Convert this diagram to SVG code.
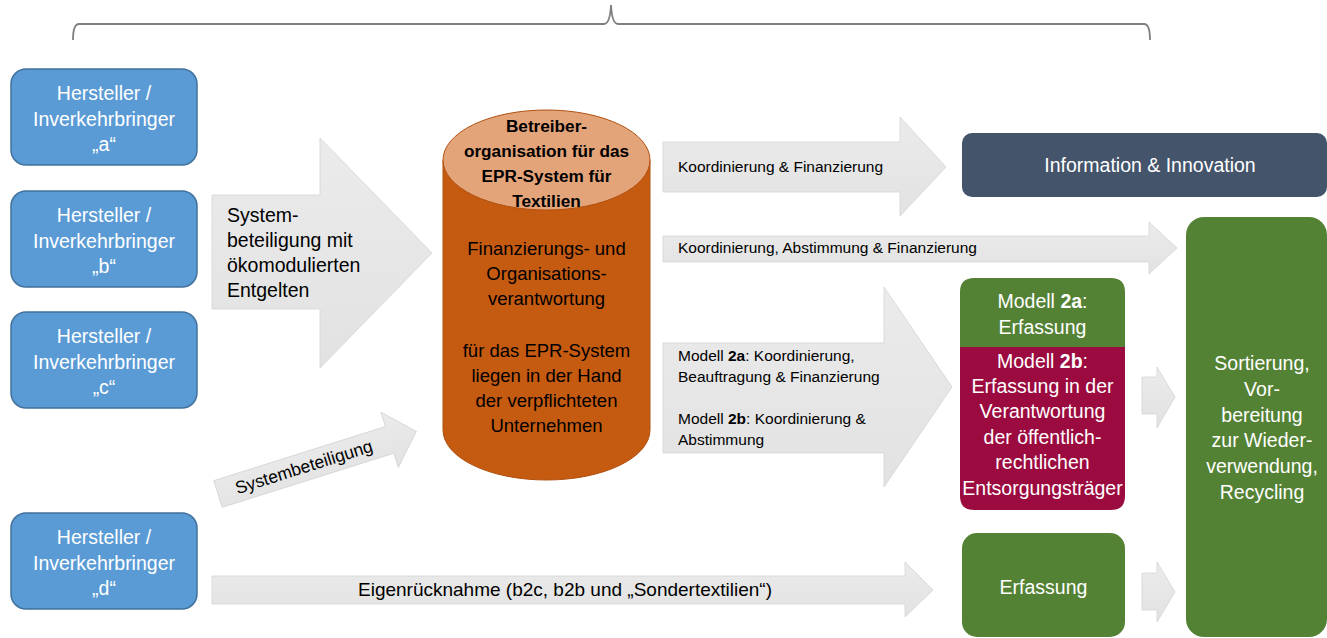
<svg xmlns="http://www.w3.org/2000/svg" width="1327" height="638" viewBox="0 0 1327 638">
<defs>
<linearGradient id="ag" x1="0" y1="0" x2="0" y2="1">
<stop offset="0" stop-color="#EBEBEB"/>
<stop offset="1" stop-color="#E2E2E2"/>
</linearGradient>
</defs>
<style>
text{font-family:"Liberation Sans",Arial,sans-serif;}
.blue{fill:#5B9BD5;stroke:#41719C;stroke-width:1.5;}
.wt{fill:#FFFFFF;font-size:19.5px;text-anchor:middle;}
.bt{fill:#000000;font-size:18.5px;text-anchor:middle;}
.lt{fill:#000000;font-size:19.5px;}
.st{fill:#000000;font-size:15.5px;}
.arrow{fill:url(#ag);stroke:#D4D4D4;stroke-width:0.8;}
.green{fill:#548235;}
.b{font-weight:bold;}
</style>
<path d="M73,40 Q73,24 79,24 L604,24 Q610,24 611,5 Q612,24 618,24 L1144,24 Q1150,24 1150,40" fill="none" stroke="#7F7F7F" stroke-width="1.8"/>
<g id="connectors">
<polygon class="arrow" points="212,195 320,195 320,138 432,253 320,368 320,309 212,309"/>
<text class="lt" x="227" y="221.5">System-</text>
<text class="lt" x="227" y="246.5">beteiligung mit</text>
<text class="lt" x="227" y="271.5">ökomodulierten</text>
<text class="lt" x="227" y="296.5">Entgelten</text>
<g transform="translate(218,494) rotate(-17.5)">
<polygon class="arrow" points="0,-14 180,-14 180,-29 208,0 180,29 180,14 0,14"/>
<text class="bt" x="90" y="6" style="font-size:17.5px">Systembeteiligung</text>
</g>
<polygon class="arrow" points="663,142 900,142 900,117 946,167 900,216 900,192 663,192"/>
<text class="st" x="678" y="172">Koordinierung &amp; Finanzierung</text>
<polygon class="arrow" points="663,236 1149,236 1149,222 1177,248 1149,274 1149,262 663,262"/>
<text class="st" x="678" y="253">Koordinierung, Abstimmung &amp; Finanzierung</text>
<polygon class="arrow" points="663,343 884,343 884,287 952,387 884,487 884,453 663,453"/>
<text class="st" x="678" y="361">Modell <tspan class="b">2a</tspan>: Koordinierung,</text>
<text class="st" x="678" y="382">Beauftragung &amp; Finanzierung</text>
<text class="st" x="678" y="424">Modell <tspan class="b">2b</tspan>: Koordinierung &amp;</text>
<text class="st" x="678" y="445">Abstimmung</text>
<polygon class="arrow" points="212,576 905,576 905,562 933,590 905,617 905,604 212,604"/>
<text class="bt" x="565" y="596" style="font-size:19px">Eigenrücknahme (b2c, b2b und „Sondertextilien“)</text>
<polygon class="arrow" points="1142,377 1157,377 1157,367 1175,397 1157,428 1157,414 1142,414"/>
<polygon class="arrow" points="1142,573 1157,573 1157,562 1175,592 1157,622 1157,610 1142,610"/>
</g>
<g id="node-a">
<rect class="blue" x="11" y="69" width="186" height="96" rx="15"/>
<text class="wt" x="104" y="99.5">Hersteller /</text>
<text class="wt" x="104" y="125.5">Inverkehrbringer</text>
<text class="wt" x="104" y="150.5">„a“</text>
</g>
<g id="node-b">
<rect class="blue" x="11" y="191" width="186" height="96" rx="15"/>
<text class="wt" x="104" y="221.5">Hersteller /</text>
<text class="wt" x="104" y="247.5">Inverkehrbringer</text>
<text class="wt" x="104" y="272.5">„b“</text>
</g>
<g id="node-c">
<rect class="blue" x="11" y="312" width="186" height="96" rx="15"/>
<text class="wt" x="104" y="342.5">Hersteller /</text>
<text class="wt" x="104" y="368.5">Inverkehrbringer</text>
<text class="wt" x="104" y="393.5">„c“</text>
</g>
<g id="node-d">
<rect class="blue" x="11" y="513" width="186" height="96" rx="15"/>
<text class="wt" x="104" y="543.5">Hersteller /</text>
<text class="wt" x="104" y="569.5">Inverkehrbringer</text>
<text class="wt" x="104" y="594.5">„d“</text>
</g>
<g id="node-betreiber">
<path d="M443,160 L443,430 A103.5,50 0 0 0 650,430 L650,160 Z" fill="#C55A11" stroke="#B0500F" stroke-width="1"/>
<ellipse cx="546.5" cy="160" rx="103.5" ry="50" fill="#E4A47A" stroke="#B0500F" stroke-width="1"/>
<text class="bt b" x="546.5" y="131.5" style="font-size:17.2px">Betreiber-</text>
<text class="bt b" x="546.5" y="156.5" style="font-size:17.2px">organisation für das</text>
<text class="bt b" x="546.5" y="181.5" style="font-size:17.2px">EPR-System für</text>
<text class="bt b" x="546.5" y="206.5" style="font-size:17.2px">Textilien</text>
<text class="bt" x="546.5" y="254.5">Finanzierungs- und</text>
<text class="bt" x="546.5" y="279.5">Organisations-</text>
<text class="bt" x="546.5" y="304.5">verantwortung</text>
<text class="bt" x="546.5" y="356.5">für das EPR-System</text>
<text class="bt" x="546.5" y="381.5">liegen in der Hand</text>
<text class="bt" x="546.5" y="406.5">der verpflichteten</text>
<text class="bt" x="546.5" y="431.5">Unternehmen</text>
</g>
<g id="node-info">
<rect x="962" y="133" width="365" height="64" rx="10" fill="#44546A"/>
<text class="wt" x="1150" y="172">Information &amp; Innovation</text>
</g>
<g id="node-modell">
<path class="green" d="M974,278 L1111,278 Q1125,278 1125,292 L1125,347 L960,347 L960,292 Q960,278 974,278 Z"/>
<path d="M960,347 L1125,347 L1125,496 Q1125,510 1111,510 L974,510 Q960,510 960,496 Z" fill="#9C0B3F"/>
<text class="wt" x="1042.5" y="307.5">Modell <tspan class="b">2a</tspan>:</text>
<text class="wt" x="1042.5" y="333.5">Erfassung</text>
<text class="wt" x="1042.5" y="367.5">Modell <tspan class="b">2b</tspan>:</text>
<text class="wt" x="1042.5" y="392.5">Erfassung in der</text>
<text class="wt" x="1042.5" y="417.5">Verantwortung</text>
<text class="wt" x="1042.5" y="443.5">der öffentlich-</text>
<text class="wt" x="1042.5" y="468.5">rechtlichen</text>
<text class="wt" x="1042.5" y="494.5">Entsorgungsträger</text>
</g>
<g id="node-erfassung">
<rect class="green" x="962" y="533" width="163" height="104" rx="15"/>
<text class="wt" x="1043.5" y="594">Erfassung</text>
</g>
<g id="node-sortierung">
<rect class="green" x="1186" y="217" width="141" height="420" rx="18"/>
<text class="wt" x="1262" y="369.5">Sortierung,</text>
<text class="wt" x="1262" y="395.5">Vor-</text>
<text class="wt" x="1262" y="421.5">bereitung</text>
<text class="wt" x="1262" y="446.5">zur Wieder-</text>
<text class="wt" x="1262" y="472.5">verwendung,</text>
<text class="wt" x="1262" y="498.5">Recycling</text>
</g>
</svg>
